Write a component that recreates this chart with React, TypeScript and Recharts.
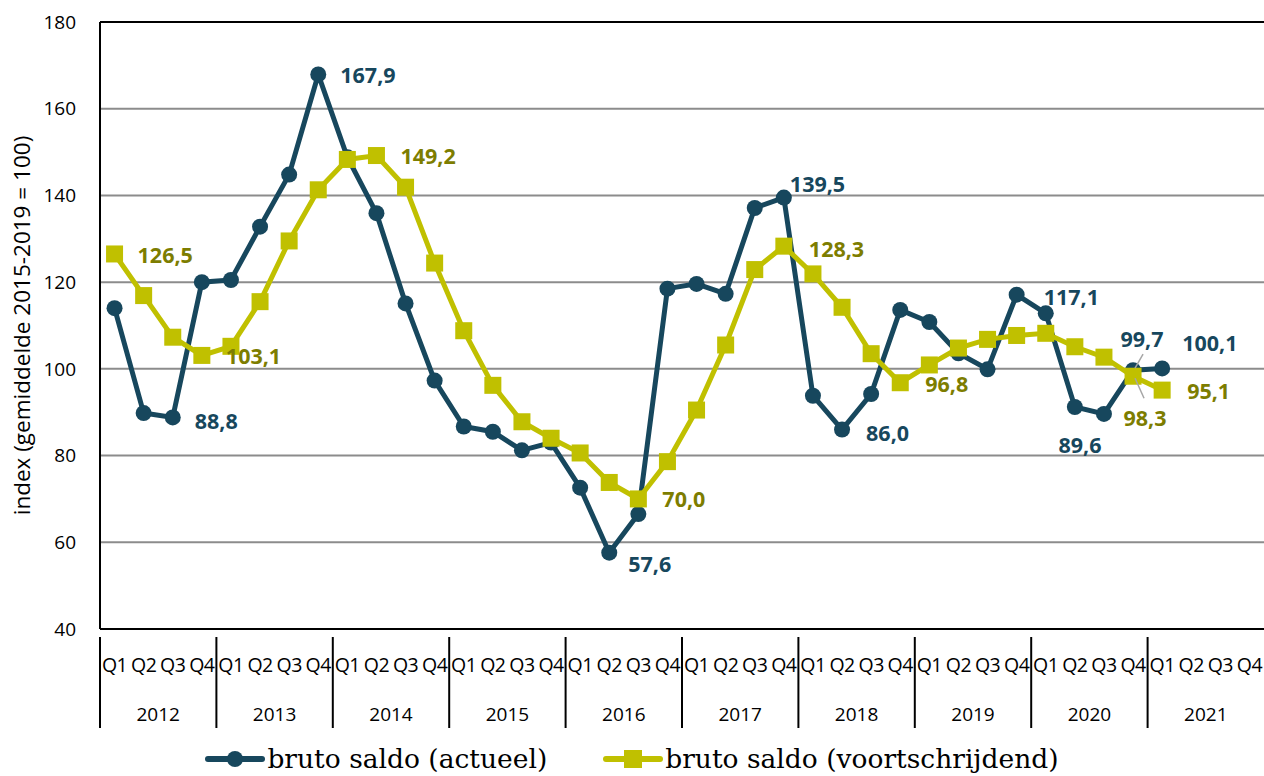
import { LineChart, Line, XAxis, YAxis, CartesianGrid, ReferenceLine, LabelList } from 'recharts'

const years = ['2012', '2013', '2014', '2015', '2016', '2017', '2018', '2019', '2020', '2021']
const quarters = ['Q1', 'Q2', 'Q3', 'Q4']

// bruto saldo (actueel)
const actueel = [
  114.0, 89.8, 88.8, 120.0,
  120.5, 132.8, 144.8, 167.9,
  148.8, 135.9, 115.1, 97.3,
  86.7, 85.5, 81.2, 83.0,
  72.6, 57.6, 66.5, 118.5,
  119.6, 117.3, 137.1, 139.5,
  93.8, 86.0, 94.2, 113.6,
  110.8, 103.6, 99.9, 117.1,
  112.8, 91.2, 89.6, 99.7,
  100.1, null, null, null,
]

// bruto saldo (voortschrijdend)
const voortschrijdend = [
  126.5, 116.9, 107.3, 103.1,
  105.2, 115.5, 129.5, 141.3,
  148.3, 149.2, 141.9, 124.4,
  108.8, 96.2, 87.8, 84.0,
  80.6, 73.8, 70.0, 78.6,
  90.5, 105.5, 122.9, 128.3,
  121.9, 114.2, 103.5, 96.8,
  100.9, 104.8, 106.8, 107.7,
  108.2, 105.1, 102.7, 98.3,
  95.1, null, null, null,
]

const yTicks = [40, 60, 80, 100, 120, 140, 160, 180]

const data = years.flatMap((year, yi) =>
  quarters.map((q, qi) => ({
    key: `${year}-${q}`,
    year,
    q,
    actueel: actueel[yi * 4 + qi],
    voortschrijdend: voortschrijdend[yi * 4 + qi],
  }))
)

const DARK = '#17475d'
const YELLOW = '#c0c000'
const OLIVE = '#7d7d00'
const FONT = '"Open Sans", sans-serif'

// which points get a value label, and where it goes relative to the point
const darkLabels = {
  2: { dx: 22, dy: 3 },
  7: { dx: 22, dy: 0 },
  17: { dx: 19, dy: 11 },
  23: { dx: 6, dy: -14 },
  25: { dx: 24, dy: 3 },
  31: { dx: 27, dy: 2 },
  34: { dx: -24, dy: 31, anchor: 'middle' },
  35: { dx: 9, dy: -32, anchor: 'middle', leader: [10, -16, 2, -2] },
  36: { dx: 20, dy: -26 },
}
const yellowLabels = {
  0: { dx: 23, dy: 1 },
  3: { dx: 24, dy: 0 },
  9: { dx: 24, dy: 0 },
  18: { dx: 24, dy: 0 },
  23: { dx: 25, dy: 2 },
  27: { dx: 25, dy: 1 },
  35: { dx: 12, dy: 41, anchor: 'middle', leader: [2, 2, 11, 22] },
  36: { dx: 25, dy: 0 },
}

const makeLabel = (cfg: any, color: string) => (props: any) => {
  const { x, y, value, index } = props
  const c = cfg[index]
  if (!c || value == null) return null
  return (
    <g>
      {c.leader && (
        <line
          x1={x + c.leader[0]}
          y1={y + c.leader[1]}
          x2={x + c.leader[2]}
          y2={y + c.leader[3]}
          stroke="#a6a6a6"
          strokeWidth={1.5}
        />
      )}
      <text
        x={x + c.dx}
        y={y + c.dy}
        textAnchor={c.anchor || 'start'}
        dominantBaseline="central"
        fontFamily={FONT}
        fontWeight={700}
        fontSize={21.5}
        fill={color}
      >
        {Number(value).toFixed(1).replace('.', ',')}
      </text>
    </g>
  )
}

const SquareDot = (props: any) => {
  const { cx, cy, index } = props
  if (cx == null || cy == null) return <g key={`sq-${index}`} />
  return <rect key={`sq-${index}`} x={cx - 8.5} y={cy - 8.5} width={17} height={17} fill={YELLOW} />
}

const BAND = 1164 / 40

const QuarterTick = (props: any) => {
  const { x, y, payload, index } = props
  const d = data[index]
  return (
    <g>
      <text x={x} y={y + 27} textAnchor="middle" dominantBaseline="central" fontFamily={FONT} fontSize={19.5} fill="#000" letterSpacing={-0.5}>
        {payload.value}
      </text>
      {d && d.q === 'Q1' && (
        <line x1={x - BAND / 2} y1={y} x2={x - BAND / 2} y2={y + 91} stroke="#000" strokeWidth={2} />
      )}
      {d && d.q === 'Q2' && (
        <text x={x + BAND / 2} y={y + 77} textAnchor="middle" dominantBaseline="central" fontFamily={FONT} fontSize={19} fill="#000">
          {d.year}
        </text>
      )}
    </g>
  )
}

const LegendItem = ({ color, label, square }: { color: string; label: string; square?: boolean }) => (
  <div style={{ display: 'flex', alignItems: 'center' }}>
    <svg width={60} height={24}>
      <line x1={3} y1={12} x2={57} y2={12} stroke={color} strokeWidth={6} strokeLinecap="round" />
      {square ? <rect x={21} y={3} width={18} height={18} fill={color} /> : <circle cx={30} cy={12} r={8} fill={color} />}
    </svg>
    <span style={{ fontFamily: '"DejaVu Serif", serif', fontSize: 26.5, lineHeight: '30px', color: '#000', marginLeft: 2 }}>{label}</span>
  </div>
)

const App = () => {
  return (
    <div style={{ position: 'absolute', left: 0, top: 0, width: 1264, height: 776, background: '#fff' }}>
      <LineChart width={1264} height={740} data={data} margin={{ top: 22, right: 0, bottom: 11, left: 0 }}>
        <CartesianGrid vertical={false} stroke="#8c8c8c" strokeWidth={2} />
        <XAxis
          dataKey="q"
          interval={0}
          height={100}
          padding={{ left: BAND / 2, right: BAND / 2 }}
          tickLine={false}
          axisLine={{ stroke: '#000', strokeWidth: 2 }}
          tick={<QuarterTick />}
        />
        <YAxis
          width={100}
          domain={[40, 180]}
          ticks={yTicks}
          tickLine={false}
          tickMargin={18}
          axisLine={{ stroke: '#000', strokeWidth: 2 }}
          tick={{ fontFamily: FONT, fontSize: 19, fill: '#000' }}
          label={{
            value: 'index (gemiddelde 2015-2019 = 100)',
            angle: -90,
            position: 'center',
            dx: -28,
            style: { fontFamily: FONT, fontSize: 22.5, fill: '#000', textAnchor: 'middle' },
          }}
        />
        <ReferenceLine y={180} stroke="#000" strokeWidth={2} />
        <Line
          type="linear"
          dataKey="actueel"
          stroke={DARK}
          strokeWidth={5}
          dot={{ r: 8, fill: DARK, stroke: 'none' }}
          isAnimationActive={false}
        >
          <LabelList dataKey="actueel" content={makeLabel(darkLabels, DARK)} />
        </Line>
        <Line
          type="linear"
          dataKey="voortschrijdend"
          stroke={YELLOW}
          strokeWidth={5}
          dot={SquareDot}
          isAnimationActive={false}
        >
          <LabelList dataKey="voortschrijdend" content={makeLabel(yellowLabels, OLIVE)} />
        </Line>
      </LineChart>
      <div style={{ position: 'absolute', top: 744, left: 0, width: 1264, display: 'flex', justifyContent: 'center', gap: 56 }}>
        <LegendItem color={DARK} label="bruto saldo (actueel)" />
        <LegendItem color={YELLOW} label="bruto saldo (voortschrijdend)" square />
      </div>
    </div>
  )
}

export default App
